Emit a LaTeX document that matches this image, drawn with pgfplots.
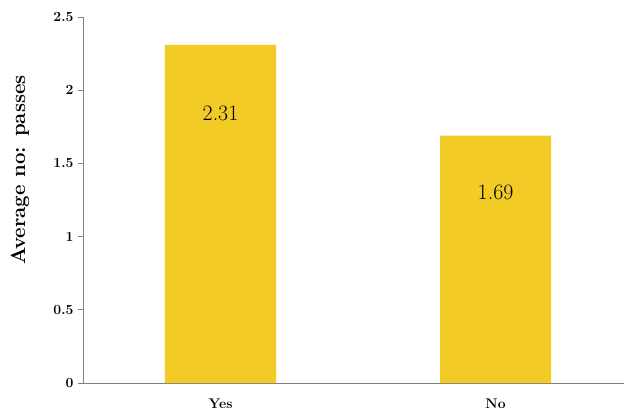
\documentclass[border=0pt]{standalone}
\usepackage{fontspec}
\usepackage{pgfplots}
\pgfplotsset{compat=1.18}
\usetikzlibrary{calc}
\definecolor{baryellow}{HTML}{F2CB27}
\definecolor{axgray}{HTML}{808080}
\begin{document}
\begin{tikzpicture}
\begin{axis}[
  name=ax,
  scale only axis,
  width=541bp, height=366bp,
  xmin=-0.5, xmax=1.467,
  ymin=0, ymax=2.5,
  axis x line*=bottom, axis y line*=left,
  axis line style={axgray, line width=0.9pt},
  ybar, bar width=0.404, bar shift=0pt,
  xtick={0,1}, xticklabels={Yes,No},
  x tick style={draw=none},
  extra x ticks={0.5}, extra x tick labels={},
  extra x tick style={major tick length=5bp, tick align=outside, tick style={axgray, line width=0.8pt}},
  ytick={0,0.5,1,1.5,2,2.5},
  y tick style={axgray, line width=0.8pt},
  major tick length=5bp, tick align=outside,
  /pgf/number format/assume math mode=true,
  tick label style={font=\fontsize{14}{16}\selectfont\bfseries},
  yticklabel style={xshift=-1bp},
  xticklabel style={yshift=-7bp},
  ylabel={Average no: passes},
  ylabel style={at={(axis description cs:-0.1165,0.582)}, anchor=center, font=\fontsize{20.5}{24}\selectfont\bfseries},
  clip=false,
]
\addplot[fill=baryellow, draw=none] coordinates {(0,2.31) (1,1.69)};
\addplot[draw=none, mark=none, nodes near coords, point meta=explicit symbolic,
  every node near coord/.style={anchor=center, font=\fontsize{22}{26}\selectfont, text=black}]
  coordinates {(0,1.84) [2.31] (1,1.30) [1.69]};
\end{axis}
\pgfresetboundingbox
\path[use as bounding box] ($(ax.south west)+(-83bp,-30bp)$) rectangle ($(ax.north east)+(0,17bp)$);
\end{tikzpicture}
\end{document}
